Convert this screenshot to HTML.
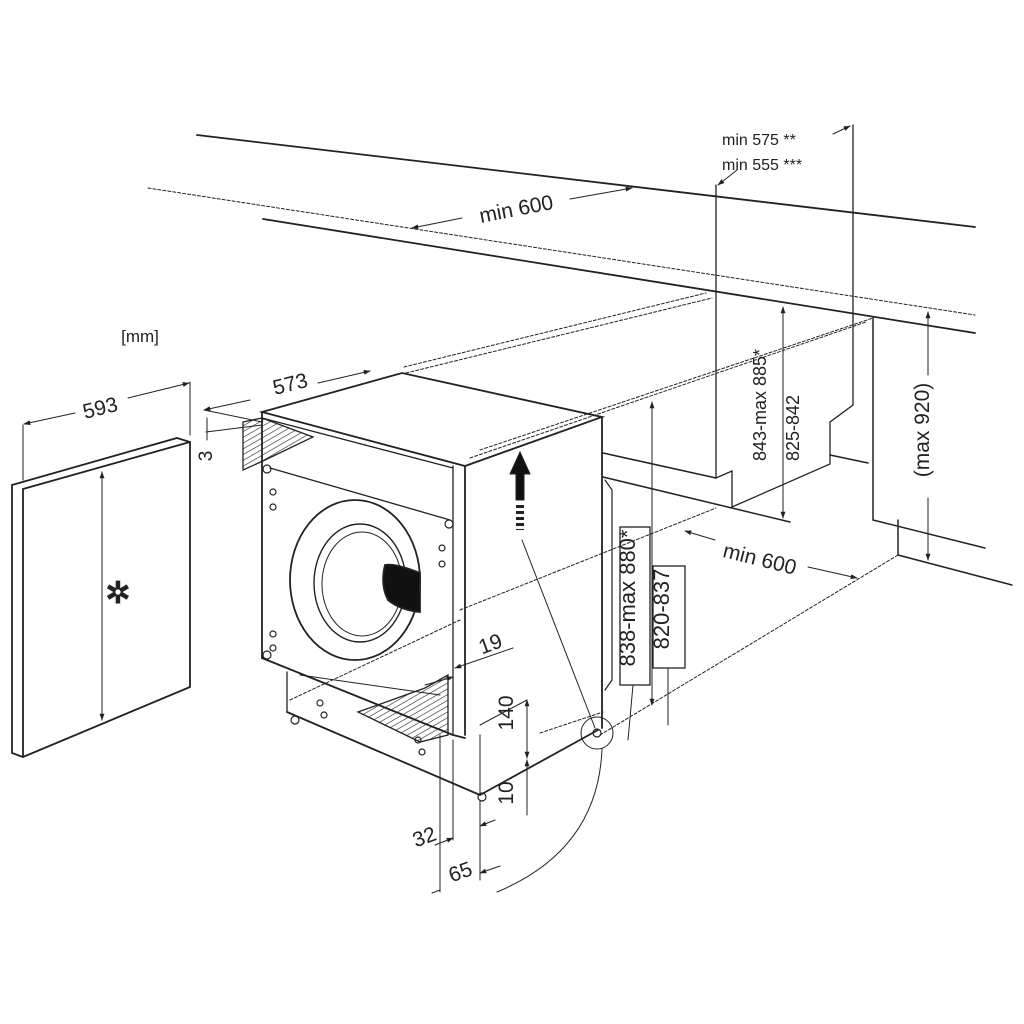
<!DOCTYPE html>
<html><head><meta charset="utf-8"><style>
html,body{margin:0;padding:0;background:#fff}
svg{display:block}
text{font-family:"Liberation Sans",Arial,sans-serif;fill:#222}
</style></head><body>
<svg width="1024" height="1024" viewBox="0 0 1024 1024" xmlns="http://www.w3.org/2000/svg">
<defs>
<marker id="a" viewBox="0 0 10 10" refX="9" refY="5" markerWidth="7" markerHeight="7" orient="auto-start-reverse"><path d="M0,1.5 L10,5 L0,8.5z" fill="#222"/></marker>
<pattern id="h" width="5" height="5" patternUnits="userSpaceOnUse" patternTransform="rotate(60)"><line x1="0" y1="0" x2="0" y2="5" stroke="#222" stroke-width="1.2"/></pattern>
</defs>
<g stroke="#222" fill="none" stroke-width="1.8" stroke-linecap="round">
<line x1="197" y1="135" x2="975" y2="227"/>
<line x1="263" y1="219" x2="975" y2="333"/>
<line x1="148" y1="188" x2="975" y2="315" stroke-width="1" stroke-dasharray="3,2"/>
<polyline points="716,185 716,478 732,471 732,507 830,464 830,422 853,405 853,125" stroke-width="1.3"/>
<line x1="603" y1="453" x2="716" y2="478" stroke-width="1.5"/>
<line x1="603" y1="477" x2="790" y2="522" stroke-width="1.5"/>
<line x1="830" y1="455" x2="868" y2="463" stroke-width="1.5"/>
<polyline points="873,318 873,520 985,548" stroke-width="1.5"/>
<polyline points="898,520 898,555 1012,585" stroke-width="1.5"/>
<line x1="783" y1="307" x2="783" y2="518" stroke-width="1" marker-start="url(#a)" marker-end="url(#a)"/>
<line x1="928" y1="312" x2="928" y2="375" stroke-width="1" marker-start="url(#a)"/>
<line x1="928" y1="498" x2="928" y2="560" stroke-width="1" marker-end="url(#a)"/>
<line x1="652" y1="402" x2="652" y2="705" stroke-width="1" marker-start="url(#a)" marker-end="url(#a)"/>
<line x1="462" y1="218" x2="412" y2="228" stroke-width="1" marker-end="url(#a)"/>
<line x1="570" y1="199" x2="632" y2="188" stroke-width="1" marker-end="url(#a)"/>
<line x1="737" y1="170" x2="718" y2="185" stroke-width="1" marker-end="url(#a)"/>
<line x1="833" y1="134" x2="850" y2="126" stroke-width="1" marker-end="url(#a)"/>
<g stroke-width="1" stroke-dasharray="3,2">
<line x1="404" y1="367" x2="706" y2="293"/>
<line x1="406" y1="373" x2="712" y2="298"/>
<line x1="480" y1="450" x2="873" y2="318"/>
<line x1="470" y1="458" x2="866" y2="322"/>
<line x1="460" y1="610" x2="716" y2="508"/>
<line x1="290" y1="700" x2="460" y2="620"/>
<line x1="600" y1="735" x2="898" y2="555"/>
<line x1="540" y1="733" x2="603" y2="712"/>
</g>
<line x1="715" y1="540" x2="685" y2="531" stroke-width="1" marker-end="url(#a)"/>
<line x1="808" y1="567" x2="857" y2="578" stroke-width="1" marker-end="url(#a)"/>
<polygon points="262,412 402,373 602,417 465,466" stroke-width="1.8"/>
<line x1="262" y1="412" x2="262" y2="658"/>
<line x1="262" y1="418" x2="453" y2="468" stroke-width="1.3"/>
<line x1="262" y1="658" x2="453" y2="735"/>
<line x1="453" y1="466" x2="453" y2="735" stroke-width="1.3"/>
<line x1="465" y1="466" x2="465" y2="735"/>
<line x1="602" y1="417" x2="602" y2="728"/>
<line x1="453" y1="735" x2="465" y2="738"/>
<line x1="270" y1="468" x2="450" y2="520" stroke-width="1.3"/>
<line x1="287" y1="672" x2="287" y2="712" stroke-width="1.3"/>
<line x1="287" y1="712" x2="480" y2="795"/>
<line x1="480" y1="795" x2="598" y2="730"/>
<line x1="480" y1="735" x2="480" y2="795" stroke-width="1"/>
<line x1="300" y1="675" x2="440" y2="695" stroke-width="1"/>
<path d="M605,480 L612,490 L612,680 L605,690" stroke-width="1.2"/>
<ellipse cx="355" cy="580" rx="65" ry="80"/>
<ellipse cx="360" cy="583" rx="46" ry="59" stroke-width="1.4"/>
<ellipse cx="362" cy="584" rx="40" ry="52" stroke-width="1"/>
<path d="M385,565 Q395,563 420,573 L420,612 Q400,610 388,600 Q380,585 385,565z" fill="#111"/>
<g stroke-width="1.2">
<circle cx="267" cy="469" r="4"/><circle cx="273" cy="492" r="3"/><circle cx="273" cy="507" r="3"/>
<circle cx="449" cy="524" r="4"/><circle cx="442" cy="548" r="3"/><circle cx="442" cy="564" r="3"/>
<circle cx="273" cy="634" r="3"/><circle cx="273" cy="648" r="3"/><circle cx="267" cy="655" r="4"/>
<circle cx="320" cy="703" r="3"/><circle cx="324" cy="715" r="3"/><circle cx="418" cy="740" r="3"/><circle cx="422" cy="752" r="3"/>
<circle cx="295" cy="720" r="4"/><circle cx="482" cy="797" r="4"/><circle cx="597" cy="733" r="4"/>
</g>
<polygon points="243,422 262,418 313,437 265,460 243,470" fill="url(#h)" stroke-width="1.3"/>
<polygon points="358,712 425,688 448,675 448,735 420,742" fill="url(#h)" stroke-width="1.3"/>
<path d="M520,452 L530,474 L524,474 L524,500 L516,500 L516,474 L510,474z" fill="#111" stroke-width="1"/>
<line x1="520" y1="505" x2="520" y2="530" stroke-width="8" stroke-dasharray="3,3" stroke-linecap="butt"/>
<line x1="522" y1="540" x2="595" y2="728" stroke-width="1"/>
<circle cx="597" cy="733" r="16" stroke-width="1"/>
<path d="M602,749 Q598,850 497,892" stroke-width="1"/>
<rect x="620" y="527" width="30" height="158" stroke-width="1.3"/>
<rect x="653" y="566" width="32" height="102" stroke-width="1.3"/>
<line x1="633" y1="685" x2="628" y2="740" stroke-width="1"/>
<line x1="668" y1="668" x2="668" y2="725" stroke-width="1"/>
<line x1="527" y1="700" x2="527" y2="758" stroke-width="1" marker-start="url(#a)" marker-end="url(#a)"/>
<line x1="527" y1="760" x2="527" y2="815" stroke-width="1" marker-start="url(#a)"/>
<line x1="480" y1="725" x2="527" y2="700" stroke-width="1"/>
<line x1="440" y1="735" x2="440" y2="892" stroke-width="1"/>
<line x1="453" y1="740" x2="453" y2="840" stroke-width="1"/>
<line x1="480" y1="800" x2="480" y2="880" stroke-width="1"/>
<line x1="435" y1="845" x2="453" y2="838" stroke-width="1" marker-end="url(#a)"/>
<line x1="495" y1="820" x2="480" y2="826" stroke-width="1" marker-end="url(#a)"/>
<line x1="432" y1="893" x2="440" y2="890" stroke-width="1"/>
<line x1="500" y1="866" x2="480" y2="873" stroke-width="1" marker-end="url(#a)"/>
<line x1="455" y1="668" x2="513" y2="648" stroke-width="1" marker-start="url(#a)"/>
<line x1="425" y1="685" x2="453" y2="677" stroke-width="1" marker-end="url(#a)"/>
<polygon points="12,485 177,438 190,442 190,687 23,757 12,753" stroke-width="1.8"/>
<line x1="23" y1="489" x2="23" y2="757"/>
<line x1="23" y1="489" x2="190" y2="442"/>
<line x1="102" y1="472" x2="102" y2="720" stroke-width="1" marker-start="url(#a)" marker-end="url(#a)"/>
<line x1="23" y1="480" x2="23" y2="425" stroke-width="1"/>
<line x1="190" y1="435" x2="190" y2="382" stroke-width="1"/>
<line x1="75" y1="413" x2="24" y2="424" stroke-width="1" marker-end="url(#a)"/>
<line x1="128" y1="398" x2="189" y2="383" stroke-width="1" marker-end="url(#a)"/>
<line x1="250" y1="400" x2="204" y2="410" stroke-width="1" marker-end="url(#a)"/>
<line x1="318" y1="383" x2="370" y2="371" stroke-width="1" marker-end="url(#a)"/>
<line x1="204" y1="410" x2="262" y2="422" stroke-width="1"/>
<line x1="206" y1="432" x2="262" y2="425" stroke-width="1"/>
<line x1="207" y1="418" x2="207" y2="440" stroke-width="1"/>
</g>
<text x="118" y="603" font-size="30" font-weight="bold" text-anchor="middle">✲</text>
<g font-size="21">
<text x="140" y="342" text-anchor="middle" font-size="17">[mm]</text>
<text x="100" y="415" text-anchor="middle" transform="rotate(-14 100 407)">593</text>
<text x="290" y="391" text-anchor="middle" transform="rotate(-14 290 383)">573</text>
<text x="218" y="462" text-anchor="middle" font-size="19" transform="rotate(-90 212 462)">3</text>
<text x="516" y="216" text-anchor="middle" transform="rotate(-11 516 208)">min 600</text>
<text x="722" y="145" font-size="16">min 575 **</text>
<text x="722" y="170" font-size="16">min 555 ***</text>
<text x="760" y="566" text-anchor="middle" transform="rotate(14 760 558)">min 600</text>
<text x="490" y="651" text-anchor="middle" transform="rotate(-20 490 643)">19</text>
<text x="520" y="720" text-anchor="middle" transform="rotate(-90 513 720)">140</text>
<text x="520" y="800" text-anchor="middle" transform="rotate(-90 513 800)">10</text>
<text x="424" y="844" text-anchor="middle" transform="rotate(-20 424 836)">32</text>
<text x="460" y="879" text-anchor="middle" transform="rotate(-20 460 871)">65</text>
<text x="643" y="606" text-anchor="middle" font-size="22" transform="rotate(-90 635 606)">838-max 880*</text>
<text x="677" y="617" text-anchor="middle" font-size="22" transform="rotate(-90 669 617)">820-837</text>
<text x="773" y="412" text-anchor="middle" font-size="18" transform="rotate(-90 766 412)">843-max 885*</text>
<text x="806" y="435" text-anchor="middle" font-size="18" transform="rotate(-90 799 435)">825-842</text>
<text x="936" y="437" text-anchor="middle" transform="rotate(-90 929 437)">(max 920)</text>
</g>
</svg>
</body></html>
